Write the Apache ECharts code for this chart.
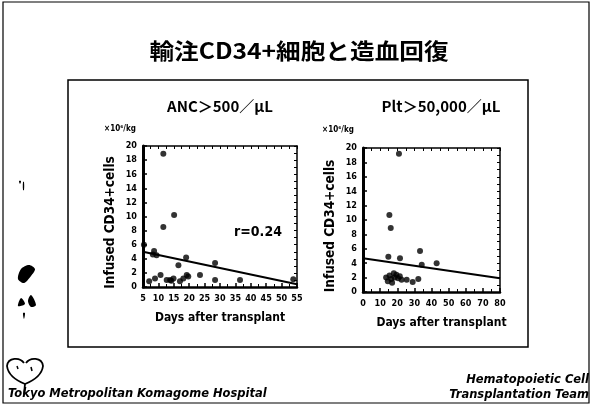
<!DOCTYPE html>
<html><head><meta charset="utf-8">
<script src="https://cdn.jsdelivr.net/npm/echarts@6/dist/echarts.min.js"></script>
<style>html,body{margin:0;padding:0;background:#fff}#c{width:593px;height:406px}</style>
</head><body><div id="c"></div>
<script>
// ---- data ----
const ancDays  = [11.6, 15.1, 11.6, 5.3, 8.6, 9.4, 8.2, 16.5, 19.0, 28.4, 7.0, 8.9, 10.7, 12.7, 13.8, 14.9, 14.2, 17.0, 18.1, 19.2, 19.7, 23.5, 28.4, 36.5, 53.8];
const ancCD34  = [18.9, 10.2, 8.5, 6.0, 5.1, 4.5, 4.6, 3.1, 4.2, 3.4, 0.8, 1.2, 1.7, 1.0, 1.0, 1.2, 0.9, 0.8, 1.2, 1.7, 1.5, 1.7, 1.0, 1.0, 1.1];
const pltDays  = [21.0, 15.4, 16.2, 33.3, 14.8, 21.6, 43.0, 34.3, 13.5, 14.5, 15.5, 16.5, 17.0, 18.0, 18.5, 19.5, 20.5, 21.5, 22.5, 25.5, 29.0, 32.3];
const pltCD34  = [19.2, 10.7, 8.9, 5.7, 4.9, 4.7, 4.0, 3.8, 2.0, 1.5, 2.3, 1.8, 1.3, 2.6, 2.0, 2.4, 1.9, 2.2, 1.7, 1.7, 1.4, 1.8];
const ancFitX  = [5, 55];
const ancFitY  = [5.0, 0.4];
const pltFitX  = [0, 80];
const pltFitY  = [4.7, 1.9];
const ancTitle = 'ANC＞500／μL';
const pltTitle = 'Plt＞50,000／μL';
const mainTitle = '輸注CD34+細胞と造血回復';
const yName = 'Infused CD34+cells';
const xName = 'Days after transplant';
const unitLabel = '×10⁶/kg';
const rLabel = 'r=0.24';

const zip = (a, b) => a.map((v, i) => [v, b[i]]);
const FONT = "'DejaVu Sans Condensed','Liberation Sans Narrow','DejaVu Sans',sans-serif";
const CJK = "'Noto Sans CJK JP','Noto Sans CJK SC',sans-serif";
const lab = {fontSize: 9, fontWeight: 'bold', color: '#000', fontFamily: FONT};
const nameStyle = {fontSize: 12, fontWeight: 'bold', color: '#000', fontFamily: FONT};

function mainX(grid, min, max, interval, pad) {
  return {gridIndex: grid, type: 'value', min, max, interval, position: 'bottom',
    axisLine: {onZero: false, lineStyle: {color: '#000', width: 2.5}},
    axisTick: {inside: true, length: 4, lineStyle: {color: '#000', width: 1.5}},
    minorTick: {show: true, splitNumber: 2, length: 3, lineStyle: {color: '#000', width: 1}},
    axisLabel: Object.assign({margin: 7}, lab), splitLine: {show: false},
    name: xName, nameLocation: 'middle', nameGap: 25,
    nameTextStyle: Object.assign({padding: [0, 0, 0, pad]}, nameStyle)};
}
function helperX(grid, min, max, interval) {
  return {gridIndex: grid, type: 'value', min, max, interval, position: 'top',
    axisLine: {onZero: false, lineStyle: {color: '#000', width: 1.5}},
    axisTick: {inside: true, length: 3, lineStyle: {color: '#000', width: 1}},
    axisLabel: {show: false}, splitLine: {show: false}};
}
function mainY(grid) {
  return {gridIndex: grid, type: 'value', min: 0, max: 20, interval: 2, position: 'left',
    axisLine: {onZero: false, lineStyle: {color: '#000', width: 3}},
    axisTick: {inside: true, length: 4, lineStyle: {color: '#000', width: 1.5}},
    axisLabel: Object.assign({margin: 6}, lab), splitLine: {show: false},
    name: yName, nameLocation: 'middle', nameGap: 26,
    nameTextStyle: Object.assign({}, nameStyle, {fontSize: 13.5, padding: [0, 12, 0, 0]})};
}
function helperY(grid) {
  return {gridIndex: grid, type: 'value', min: 0, max: 20, interval: 1, position: 'right',
    axisLine: {onZero: false, lineStyle: {color: '#000', width: 1.5}},
    axisTick: {inside: true, length: 3, lineStyle: {color: '#000', width: 1}},
    axisLabel: {show: false}, splitLine: {show: false}};
}
function txt(x, y, text, font, align, extra) {
  return Object.assign({type: 'text', x, y, silent: true,
    style: {text, font, fill: '#000', align: align || 'center', verticalAlign: 'middle',
            textAlign: align || 'center', textVerticalAlign: 'middle'}}, extra || {});
}
function curve(x1, y1, c1x, c1y, c2x, c2y, x2, y2) {
  return {type: 'bezierCurve', silent: true,
    shape: {x1, y1, cpx1: c1x, cpy1: c1y, cpx2: c2x, cpy2: c2y, x2, y2},
    style: {fill: null, stroke: '#000', lineWidth: 1.8}};
}
function blob(points) {
  return {type: 'polygon', silent: true, shape: {points, smooth: 0.3}, style: {fill: '#000'}};
}

const chart = echarts.init(document.getElementById('c'), null, {renderer: 'canvas'});
chart.setOption({
  backgroundColor: '#fff',
  animation: false,
  grid: [
    {left: 143, top: 146, width: 154, height: 141},
    {left: 363, top: 148, width: 137, height: 144}
  ],
  xAxis: [mainX(0, 5, 55, 5, 0), helperX(0, 5, 55, 2.5), mainX(1, 0, 80, 10, 20), helperX(1, 0, 80, 5)],
  yAxis: [mainY(0), helperY(0), mainY(1), helperY(1)],
  series: [
    {type: 'scatter', xAxisIndex: 0, yAxisIndex: 0, data: zip(ancDays, ancCD34), symbolSize: 6, itemStyle: {color: '#000'}},
    {type: 'line', xAxisIndex: 0, yAxisIndex: 0, data: zip(ancFitX, ancFitY), showSymbol: false, symbol: 'none', lineStyle: {color: '#000', width: 2}},
    {type: 'scatter', xAxisIndex: 2, yAxisIndex: 2, data: zip(pltDays, pltCD34), symbolSize: 6, itemStyle: {color: '#000'}},
    {type: 'line', xAxisIndex: 2, yAxisIndex: 2, data: zip(pltFitX, pltFitY), showSymbol: false, symbol: 'none', lineStyle: {color: '#000', width: 2}}
  ],
  graphic: [
    {type: 'rect', silent: true, shape: {x: 3, y: 2, width: 586, height: 401}, style: {fill: 'none', stroke: '#000', lineWidth: 1.2}},
    {type: 'rect', silent: true, shape: {x: 68, y: 80, width: 460, height: 267}, style: {fill: 'none', stroke: '#000', lineWidth: 1.5}},
    txt(299, 51, mainTitle, 'bold 22px ' + CJK, 'center', {scaleX: 1.12}),
    txt(220, 106, ancTitle, 'bold 15px ' + CJK),
    txt(441, 106, pltTitle, 'bold 15px ' + CJK),
    txt(120, 129, unitLabel, 'bold 8px ' + FONT),
    txt(338, 130, unitLabel, 'bold 8px ' + FONT),
    txt(258, 232, rLabel, 'bold 14px ' + FONT),
    txt(8, 394, 'Tokyo Metropolitan Komagome Hospital', 'italic bold 11.5px ' + "'DejaVu Sans',sans-serif", 'left'),
    txt(589, 380, 'Hematopoietic Cell', 'italic bold 11.5px ' + "'DejaVu Sans',sans-serif", 'right'),
    txt(589, 395, 'Transplantation Team', 'italic bold 11.5px ' + "'DejaVu Sans',sans-serif", 'right'),
    curve(25, 384, 15, 380, 8, 374, 7, 366),
    curve(7, 366, 8, 357, 20, 357, 24, 363),
    curve(26, 363, 30, 357, 42, 357, 43, 366),
    curve(43, 366, 42, 374, 35, 380, 25, 384),
    {type: 'line', silent: true, shape: {x1: 17, y1: 366, x2: 18, y2: 369}, style: {stroke: '#000', lineWidth: 1.5}},
    {type: 'line', silent: true, shape: {x1: 31, y1: 367, x2: 32, y2: 371}, style: {stroke: '#000', lineWidth: 1.5}},
    {type: 'line', silent: true, shape: {x1: 25, y1: 384, x2: 24, y2: 394}, style: {stroke: '#000', lineWidth: 1.8}},
    blob([[18, 279], [21, 269], [29, 265], [35, 269], [31, 276], [24, 283]]),
    blob([[18, 306], [21, 298], [25, 304]]),
    blob([[28, 301], [31, 295], [36, 305], [31, 307]]),
    blob([[23, 313], [25, 313], [24, 319]]),
    blob([[19, 181], [21, 181], [20, 184]]),
    blob([[23, 182], [24, 182], [24, 190], [23, 190]])
  ]
});
</script></body></html>
